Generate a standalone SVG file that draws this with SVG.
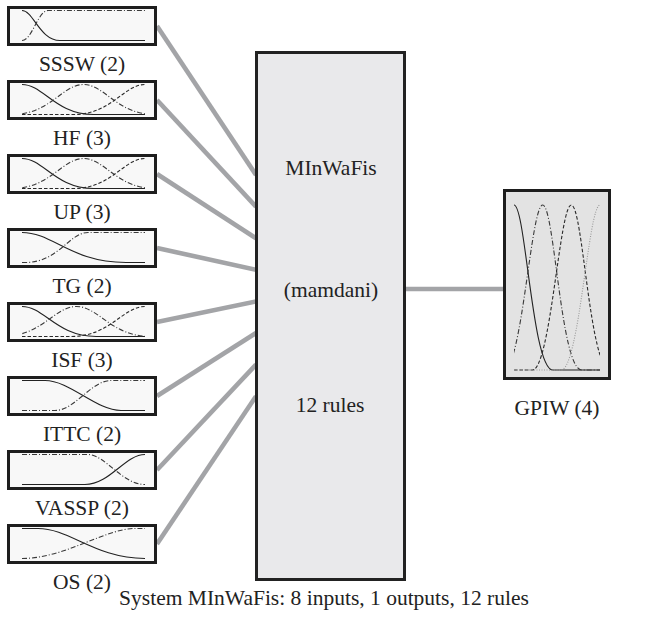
<svg xmlns="http://www.w3.org/2000/svg" width="648" height="623" viewBox="0 0 648 623">
  <style>
    .t { font-family: 'Liberation Serif', 'Times New Roman', 'DejaVu Serif', serif; font-size: 21.5px; fill: #222; text-anchor: middle; }
    .mfbox { fill: #f8f8f8; stroke: #1e1e1e; stroke-width: 3; }
    .fisbox { fill: #e9e9eb; stroke: #222; stroke-width: 3; }
    .outbox { fill: #e3e3e3; stroke: #1e1e1e; stroke-width: 3; }
    .wire { fill: none; stroke: #a3a4a7; stroke-width: 4.6; }
    .mf { fill: none; stroke: #222; stroke-width: 1.1; }
    .s2 { stroke: #3a3a3a; stroke-dasharray: 5 2 1 2; }
    .s3 { stroke: #2a2a2a; stroke-dasharray: 3.5 2; }
    .s4 { stroke: #9a9a9a; stroke-dasharray: 1 1.5; }
  </style>
  <defs>
    <clipPath id="plot" clipPathUnits="userSpaceOnUse">
      <rect x="22" y="0" width="123" height="40"/>
    </clipPath>
    <clipPath id="outplot" clipPathUnits="userSpaceOnUse">
      <rect x="514" y="190" width="86" height="190"/>
    </clipPath>
  </defs>

  <!-- connectors -->
  <g id="connectors">
    <line class="wire" x1="157" y1="26" x2="256" y2="175"/>
    <line class="wire" x1="157" y1="100" x2="256" y2="206.6"/>
    <line class="wire" x1="157" y1="174" x2="256" y2="238.2"/>
    <line class="wire" x1="157" y1="248" x2="256" y2="269.8"/>
    <line class="wire" x1="157" y1="322" x2="256" y2="301.4"/>
    <line class="wire" x1="157" y1="396" x2="256" y2="333"/>
    <line class="wire" x1="157" y1="470" x2="256" y2="364.6"/>
    <line class="wire" x1="157" y1="544" x2="256" y2="396.2"/>
    <line class="wire" x1="405" y1="289" x2="504" y2="289"/>
  </g>

  <!-- input variables -->
  <g id="in-sssw" transform="translate(0,6)">
    <rect class="mfbox" x="8.5" y="1.5" width="147" height="37"/>
    <g clip-path="url(#plot)">
      <path class="mf" d="M22,4.5 C33.4,4.5 39.8,34.5 60,34.5 L145,34.5"/>
      <path class="mf s2" d="M22,34.5 C32,34.5 38,4.5 48,4.5 L145,4.5"/>
    </g>
    <text class="t" x="82" y="64.5">SSSW (2)</text>
  </g>

  <g id="in-hf" transform="translate(0,80)">
    <rect class="mfbox" x="8.5" y="1.5" width="147" height="37"/>
    <g clip-path="url(#plot)">
      <path class="mf" d="M22,4.5 C43.4,4.5 55.3,34.5 93.4,34.5 L145,34.5"/>
      <path class="mf s2" d="M12.1,34.5 C50.2,34.5 62.1,4.5 83.5,4.5 C104.9,4.5 116.8,34.5 154.9,34.5"/>
      <path class="mf s3" d="M22,34.5 L73.6,34.5 C111.7,34.5 123.6,4.5 145,4.5"/>
    </g>
    <text class="t" x="82" y="64.5">HF (3)</text>
  </g>

  <g id="in-up" transform="translate(0,154)">
    <rect class="mfbox" x="8.5" y="1.5" width="147" height="37"/>
    <g clip-path="url(#plot)">
      <path class="mf" d="M22,4.5 C43.4,4.5 55.3,34.5 93.4,34.5 L145,34.5"/>
      <path class="mf s2" d="M12.1,34.5 C50.2,34.5 62.1,4.5 83.5,4.5 C104.9,4.5 116.8,34.5 154.9,34.5"/>
      <path class="mf s3" d="M22,34.5 L73.6,34.5 C111.7,34.5 123.6,4.5 145,4.5"/>
    </g>
    <text class="t" x="82" y="64.5">UP (3)</text>
  </g>

  <g id="in-tg" transform="translate(0,228)">
    <rect class="mfbox" x="8.5" y="1.5" width="147" height="37"/>
    <g clip-path="url(#plot)">
      <path class="mf" d="M22,4.5 C53.2,4.5 70.6,34.5 126,34.5 L145,34.5"/>
      <path class="mf s2" d="M22,34.5 L25,34.5 C58.6,34.5 69.1,4.5 88,4.5 L145,4.5"/>
    </g>
    <text class="t" x="82" y="64.5">TG (2)</text>
  </g>

  <g id="in-isf" transform="translate(0,302)">
    <rect class="mfbox" x="8.5" y="1.5" width="147" height="37"/>
    <g clip-path="url(#plot)">
      <path class="mf" d="M22,4.5 C44.2,4.5 56.6,34.5 96.1,34.5 L145,34.5"/>
      <path class="mf s2" d="M2.4,34.5 C41.9,34.5 54.3,4.5 76.5,4.5 C98.7,4.5 111.1,34.5 150.6,34.5"/>
      <path class="mf s3" d="M22,34.5 L70.9,34.5 C110.4,34.5 122.8,4.5 145,4.5"/>
    </g>
    <text class="t" x="82" y="64.5">ISF (3)</text>
  </g>

  <g id="in-ittc" transform="translate(0,376)">
    <rect class="mfbox" x="8.5" y="1.5" width="147" height="37"/>
    <g clip-path="url(#plot)">
      <path class="mf" d="M22,4.5 L45,4.5 C70,4.5 96,34.5 121,34.5 L145,34.5"/>
      <path class="mf s2" d="M22,34.5 L55,34.5 C75,34.5 91,4.5 111,4.5 L145,4.5"/>
    </g>
    <text class="t" x="82" y="64.5">ITTC (2)</text>
  </g>

  <g id="in-vassp" transform="translate(0,450)">
    <rect class="mfbox" x="8.5" y="1.5" width="147" height="37"/>
    <g clip-path="url(#plot)">
      <path class="mf" d="M22,34.5 L85,34.5 C110,34.5 125,4.5 145,4.5"/>
      <path class="mf s2" d="M22,4.5 L88,4.5 C105,4.5 122,34.5 145,34.5"/>
    </g>
    <text class="t" x="82" y="64.5">VASSP (2)</text>
  </g>

  <g id="in-os" transform="translate(0,524)">
    <rect class="mfbox" x="8.5" y="1.5" width="147" height="37"/>
    <g clip-path="url(#plot)">
      <path class="mf" d="M22,4.5 L38,4.5 C70,4.5 95,34.5 145,34.5"/>
      <path class="mf s2" d="M22,34.5 C65,34.5 105,4.5 135,4.5 L145,4.5"/>
    </g>
    <text class="t" x="82" y="64.5">OS (2)</text>
  </g>

  <!-- inference system -->
  <g id="fis">
    <rect class="fisbox" x="256.5" y="52.5" width="148" height="527"/>
    <text class="t" x="331" y="175">MInWaFis</text>
    <text class="t" x="331" y="297">(mamdani)</text>
    <text class="t" x="330" y="412">12 rules</text>
  </g>

  <!-- output variable: four gaussian sets, sigma 13 -->
  <g id="out-gpiw">
    <rect class="outbox" x="504.5" y="190.5" width="105" height="188"/>
    <g clip-path="url(#outplot)">
      <path class="mf" d="M475,370 C493.2,370 502.3,205 514,205 C525.7,205 532.2,370 553,370 L600,370"/>
      <path class="mf s2" d="M503.7,370 C521.9,370 531,205 542.7,205 C554.4,205 560.9,370 581.7,370 L600,370"/>
      <path class="mf s3" d="M514,370 L532.3,370 C550.5,370 559.6,205 571.3,205 C583,205 589.5,370 610.3,370"/>
      <path class="mf s4" d="M514,370 L561,370 C579.2,370 588.3,205 600,205 C611.7,205 618.2,370 639,370"/>
    </g>
    <text class="t" x="557" y="415">GPIW (4)</text>
  </g>

  <text id="caption" class="t" x="324" y="605">System MInWaFis: 8 inputs, 1 outputs, 12 rules</text>
</svg>
